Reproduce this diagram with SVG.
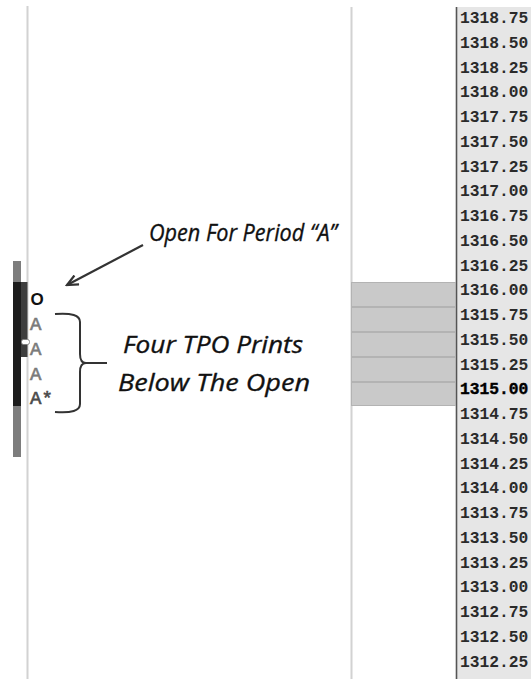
<svg xmlns="http://www.w3.org/2000/svg" width="531" height="679" viewBox="0 0 531 679">
<defs>
<style>
.price{font-family:"Liberation Mono","Courier New",monospace;font-weight:bold;font-size:16.3px;fill:#2a2a2a}
.ann{font-family:"Open Sans","Liberation Sans",sans-serif;font-style:italic;font-size:24px;fill:#111;stroke:#111;stroke-width:0.35}
.tpo{font-family:"Liberation Mono","Courier New",monospace;font-size:19px;stroke-width:0.6}
.band{fill:#c9c9c9;stroke:#b3b3b3;stroke-width:1}
</style>
<marker id="ah" markerWidth="14" markerHeight="12" refX="12" refY="6" orient="auto" markerUnits="userSpaceOnUse">
<path d="M1,1 L12,6 L1,11" fill="none" stroke="#333" stroke-width="2.2"/>
</marker>
</defs>
<rect width="531" height="679" fill="#fff"/>
<g id="grid">
<line x1="27.5" y1="6" x2="27.5" y2="679" stroke="#d2d2d2" stroke-width="2"/>
<line x1="351.5" y1="7" x2="351.5" y2="679" stroke="#d2d2d2" stroke-width="2"/>
</g>
<g id="price-column">
<rect x="456" y="7" width="75" height="672" fill="#e6e6e6"/>
<line x1="456.5" y1="7" x2="456.5" y2="679" stroke="#555" stroke-width="1.6"/>
<text class="price" x="460" y="23">1318.75</text>
<text class="price" x="460" y="48">1318.50</text>
<text class="price" x="460" y="73">1318.25</text>
<text class="price" x="460" y="97">1318.00</text>
<text class="price" x="460" y="122">1317.75</text>
<text class="price" x="460" y="147">1317.50</text>
<text class="price" x="460" y="172">1317.25</text>
<text class="price" x="460" y="196">1317.00</text>
<text class="price" x="460" y="221">1316.75</text>
<text class="price" x="460" y="246">1316.50</text>
<text class="price" x="460" y="271">1316.25</text>
<text class="price" x="460" y="295">1316.00</text>
<text class="price" x="460" y="320">1315.75</text>
<text class="price" x="460" y="345">1315.50</text>
<text class="price" x="460" y="370">1315.25</text>
<text class="price" x="460" y="394" style="fill:#000;stroke:#000;stroke-width:0.4">1315.00</text>
<text class="price" x="460" y="419">1314.75</text>
<text class="price" x="460" y="444">1314.50</text>
<text class="price" x="460" y="469">1314.25</text>
<text class="price" x="460" y="493">1314.00</text>
<text class="price" x="460" y="518">1313.75</text>
<text class="price" x="460" y="543">1313.50</text>
<text class="price" x="460" y="568">1313.25</text>
<text class="price" x="460" y="592">1313.00</text>
<text class="price" x="460" y="617">1312.75</text>
<text class="price" x="460" y="642">1312.50</text>
<text class="price" x="460" y="667">1312.25</text>
</g>
<g id="volume-bands">
<rect class="band" x="351.5" y="282.5" width="104" height="24"/>
<rect class="band" x="351.5" y="307.5" width="104" height="24"/>
<rect class="band" x="351.5" y="332.5" width="104" height="24"/>
<rect class="band" x="351.5" y="357.5" width="104" height="24"/>
<rect class="band" x="351.5" y="382.5" width="104" height="23"/>
</g>
<g id="range-bar">
<rect x="13" y="261" width="8" height="196" fill="#7d7d7d"/>
<rect x="13" y="282" width="8" height="124" fill="#1c1c1c"/>
<rect x="21" y="282" width="6.5" height="75" fill="#3e3e3e"/>
<rect x="21.5" y="339.5" width="8" height="5" rx="2" fill="#fff" stroke="#777" stroke-width="0.8"/>
</g>
<g id="tpo-letters">
<text x="30.5" y="305" style="font-family:'Liberation Sans',Arial,sans-serif;font-size:17px;font-weight:bold;fill:#111">O</text>
<text class="tpo" x="30" y="330" style="fill:#7a7a7a;stroke:#7a7a7a">A</text>
<text class="tpo" x="30" y="355" style="fill:#7a7a7a;stroke:#7a7a7a">A</text>
<text class="tpo" x="30" y="380" style="fill:#7a7a7a;stroke:#7a7a7a">A</text>
<text class="tpo" x="30" y="404" style="fill:#4a4a4a;stroke:#4a4a4a">A*</text>
</g>
<g id="connectors">
<line x1="143" y1="245" x2="67" y2="285" stroke="#333" stroke-width="2.2" marker-end="url(#ah)"/>
<path d="M55,314 Q80,312 80,322 L80,354 Q80,363 86,363 L107,363 M86,363 Q80,363 80,372 L80,404 Q80,414 55,412" fill="none" stroke="#333" stroke-width="2"/>
</g>
<g id="label-open">
<text class="ann" x="149" y="241" textLength="188" lengthAdjust="spacingAndGlyphs">Open For Period “A”</text>
</g>
<g id="label-four">
<text class="ann" x="123" y="353" textLength="180" lengthAdjust="spacingAndGlyphs">Four TPO Prints</text>
<text class="ann" x="118" y="391" textLength="192" lengthAdjust="spacingAndGlyphs">Below The Open</text>
</g>
</svg>
